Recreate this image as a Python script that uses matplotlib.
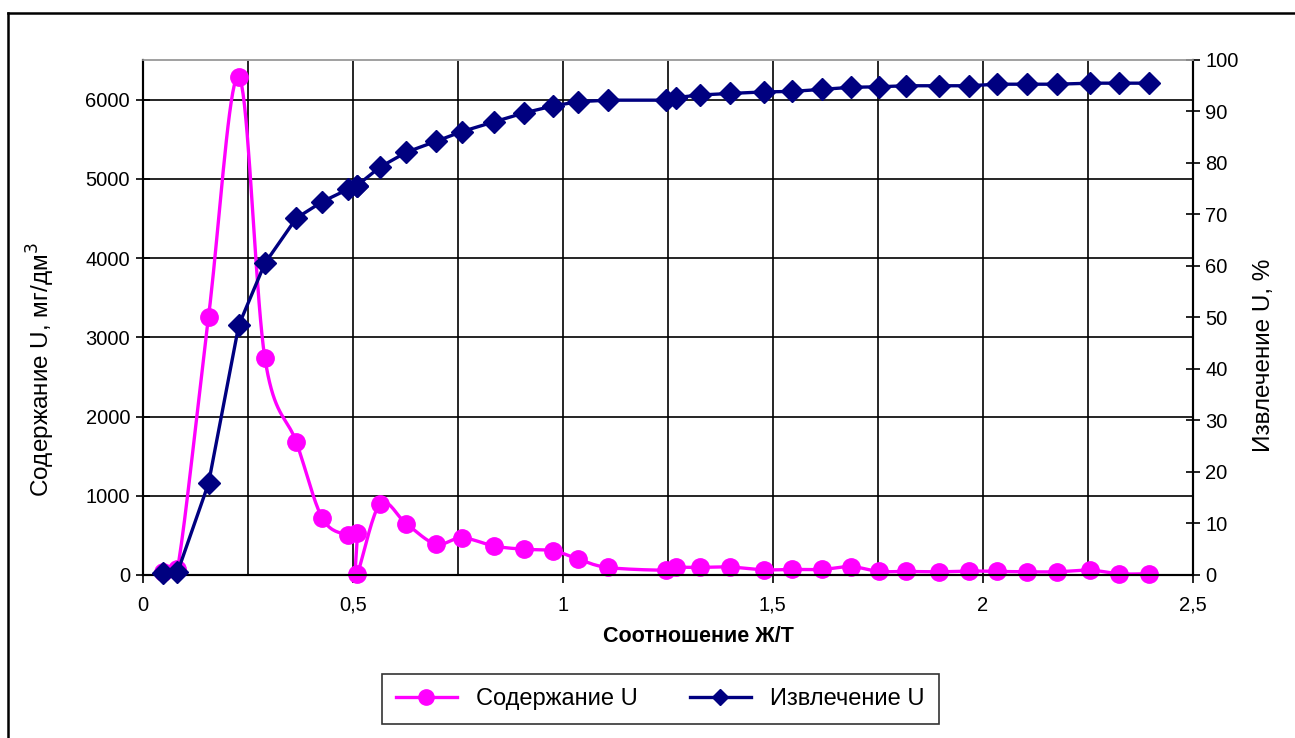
import numpy as np
import matplotlib
matplotlib.use("Agg")
from matplotlib import pyplot as plt
from matplotlib.lines import Line2D
from matplotlib.ticker import MultipleLocator, FuncFormatter

plt.rcParams['font.family'] = ['Liberation Sans', 'DejaVu Sans']

# Соотношение Ж/Т
ratio = [0.048, 0.083, 0.157, 0.229, 0.291, 0.366, 0.428, 0.489, 0.510, 0.510,
         0.565, 0.628, 0.698, 0.760, 0.837, 0.907, 0.978, 1.037, 1.107, 1.246,
         1.269, 1.326, 1.398, 1.478, 1.546, 1.617, 1.687, 1.752, 1.816, 1.896,
         1.967, 2.034, 2.105, 2.176, 2.256, 2.325, 2.396]

# Содержание U, мг/дм3
content = [40, 70, 3260, 6290, 2740, 1675, 715, 505, 530, 10,
           895, 645, 390, 470, 365, 325, 305, 200, 95, 60,
           95, 95, 100, 65, 70, 70, 105, 45, 45, 40,
           50, 45, 40, 40, 60, 15, 15]

# Извлечение U, %
recovery = [0.3, 0.5, 17.8, 48.5, 60.5, 69.3, 72.5, 74.9, 75.5, 75.6,
            79.2, 82.1, 84.2, 86.1, 88.0, 89.7, 91.1, 91.9, 92.2, 92.2,
            92.7, 93.2, 93.5, 93.8, 93.9, 94.3, 94.7, 94.8, 95.0, 95.0,
            95.0, 95.3, 95.3, 95.3, 95.5, 95.5, 95.5]

pink = '#FF00FF'
navy = '#000080'


def smooth_curve(xs, ys, sx, sy, n=20):
    # bezier smoothing like the spreadsheet "smoothed line", done in screen-like units
    px = np.array(xs) * sx
    py = np.array(ys) * sy
    pts = np.column_stack([px, py])
    out = [pts[0]]
    t = np.linspace(0, 1, n)[1:]
    for i in range(len(pts) - 1):
        p0 = pts[i - 1] if i > 0 else pts[i]
        p1 = pts[i]
        p2 = pts[i + 1]
        p3 = pts[i + 2] if i + 2 < len(pts) else pts[i + 1]
        c1 = p1 + (p2 - p0) / 6.0
        c2 = p2 - (p3 - p1) / 6.0
        seg = ((1 - t) ** 3)[:, None] * p1 + (3 * (1 - t) ** 2 * t)[:, None] * c1 \
            + (3 * (1 - t) * t ** 2)[:, None] * c2 + (t ** 3)[:, None] * p2
        out.extend(seg)
    out = np.array(out)
    return out[:, 0] / sx, out[:, 1] / sy


fig = plt.figure(figsize=(12.95, 7.38), dpi=100)
ax1 = fig.add_axes([0.1101, 0.2209, 0.8111, 0.6978])
ax2 = ax1.twinx()

cx, cy = smooth_curve(ratio, content, 420.4, 0.0792)
ax1.plot(cx, cy, color=pink, linewidth=2.4, zorder=3, clip_on=True)
ax1.plot(ratio, content, linestyle='none', marker='o', markersize=12.5,
         color=pink, zorder=4, clip_on=False)

ax2.plot(ratio, recovery, color=navy, linewidth=2.4, marker='D',
         markersize=11, zorder=3, clip_on=False)

ax1.set_xlim(0, 2.5)
ax1.set_ylim(0, 6500)
ax2.set_ylim(0, 100)

ax1.xaxis.set_major_locator(MultipleLocator(0.5))
ax1.xaxis.set_minor_locator(MultipleLocator(0.25))
ax1.xaxis.set_major_formatter(FuncFormatter(lambda v, p: f"{v:g}".replace('.', ',')))
ax1.yaxis.set_major_locator(MultipleLocator(1000))
ax2.yaxis.set_major_locator(MultipleLocator(10))

ax1.grid(True, which='both', axis='x', color='black', linewidth=1.2)
ax1.grid(True, which='major', axis='y', color='black', linewidth=1.2)
ax1.set_axisbelow(True)

ax1.tick_params(axis='x', which='major', direction='out', length=6, width=1.2,
                labelsize=14.5, pad=9)
ax1.tick_params(axis='x', which='minor', length=0)
ax1.tick_params(axis='y', direction='inout', length=10, width=1.2, labelsize=14.5, pad=4)
ax2.tick_params(axis='y', direction='inout', length=10, width=1.2, labelsize=14.5, pad=4)

for ax in (ax1, ax2):
    ax.spines['top'].set_color('#a0a0a0')
    ax.spines['top'].set_linewidth(1.2)
    for s in ('left', 'right', 'bottom'):
        ax.spines[s].set_linewidth(1.5)

ax1.set_xlabel('Соотношение Ж/Т', fontsize=15.5, fontweight='bold')
ax1.set_ylabel('Содержание U, мг/дм$^3$', fontsize=17.5)
ax2.set_ylabel('Извлечение U, %', fontsize=17.5)
ax1.xaxis.set_label_coords(0.529, -0.099)
ax1.yaxis.set_label_coords(-0.081, 0.398)
ax2.yaxis.set_label_coords(1.057, 0.427)

handles = [Line2D([], [], color=pink, linewidth=2.4, marker='o', markersize=11),
           Line2D([], [], color=navy, linewidth=2.4, marker='D', markersize=8.5)]
leg = fig.legend(handles, ['Содержание U', 'Извлечение U'], loc='center',
                 bbox_to_anchor=(0.5097, 0.0528), ncol=2, fontsize=17,
                 frameon=True, fancybox=False, edgecolor='black',
                 handlelength=2.6, columnspacing=2.2, borderpad=0.6)
leg.get_frame().set_linewidth(1.2)

# outer chart border (left and top edges visible)
fig.add_artist(Line2D([0.0062, 0.0062], [0.0, 0.982], color='black', linewidth=1.8,
                      transform=fig.transFigure))
fig.add_artist(Line2D([0.0062, 1.0], [0.982, 0.982], color='black', linewidth=1.8,
                      transform=fig.transFigure))

fig.savefig('out.png', dpi=100)
